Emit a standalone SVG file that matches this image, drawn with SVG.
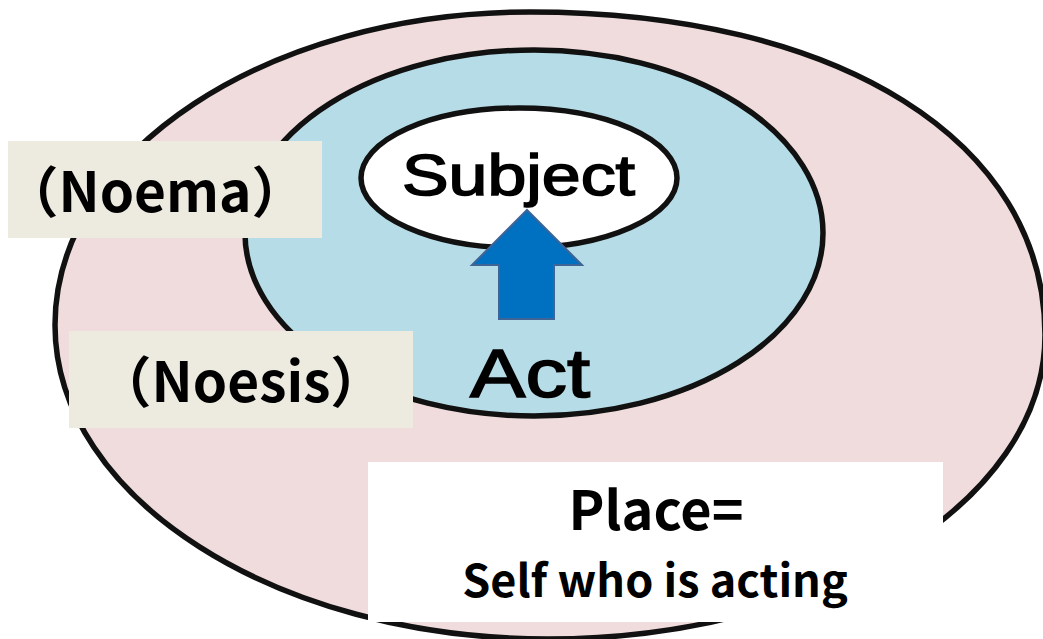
<svg xmlns="http://www.w3.org/2000/svg" width="1043" height="639" viewBox="0 0 1043 639">
  <style>
    .ring { stroke: #111; stroke-width: 5.5; }
    .label-box { fill: #EDEAE0; }
    .gothic { font-family: "Liberation Sans", Arial, sans-serif; fill: #000; stroke: #000; stroke-width: 1.6; }
    .bold { font-family: "Noto Sans CJK JP", "Noto Sans", sans-serif; font-weight: bold; fill: #000; }
  </style>
  <rect width="1043" height="639" fill="#fff"/>

  <!-- outermost region: place -->
  <g id="place-region">
    <path class="ring" fill="#F0DCDC" d="M 55 325 C 55 152, 268 12, 530 12 C 839 12, 1045 141, 1045 335 C 1045 503, 822 639, 548 639 C 276 639, 55 498, 55 325 Z"/>
  </g>

  <!-- middle region: act -->
  <g id="act-region">
    <ellipse class="ring" fill="#B6DDE7" cx="534" cy="233" rx="289" ry="183"/>
  </g>

  <!-- inner region: subject -->
  <g id="subject">
    <ellipse class="ring" fill="#fff" cx="519" cy="178" rx="158" ry="70" stroke-width="5"/>
    <text class="gothic" x="402" y="195" font-size="58" textLength="233" lengthAdjust="spacingAndGlyphs">Subject</text>
  </g>

  <!-- act arrow pointing up into the subject -->
  <g id="connectors">
    <polygon points="527,210 582,265 554,265 554,319 499,319 499,265 472,265" fill="#0070C0" stroke="#3F6496" stroke-width="2"/>
  </g>

  <g id="act">
    <text class="gothic" x="470" y="397" font-size="69" textLength="120" lengthAdjust="spacingAndGlyphs">Act</text>
  </g>

  <g id="noema">
    <rect class="label-box" x="8" y="141" width="314" height="97"/>
    <text class="bold" x="155" y="212" font-size="55" text-anchor="middle">（Noema）</text>
  </g>

  <g id="noesis">
    <rect class="label-box" x="69" y="331" width="344" height="97"/>
    <text class="bold" x="241" y="402" font-size="55" text-anchor="middle">（Noesis）</text>
  </g>

  <g id="place-label">
    <rect x="368" y="462" width="575" height="160" fill="#fff"/>
    <text class="bold" x="656" y="530" font-size="54" text-anchor="middle">Place=</text>
    <text class="bold" x="655" y="597" font-size="45" text-anchor="middle">Self who is acting</text>
  </g>
</svg>
